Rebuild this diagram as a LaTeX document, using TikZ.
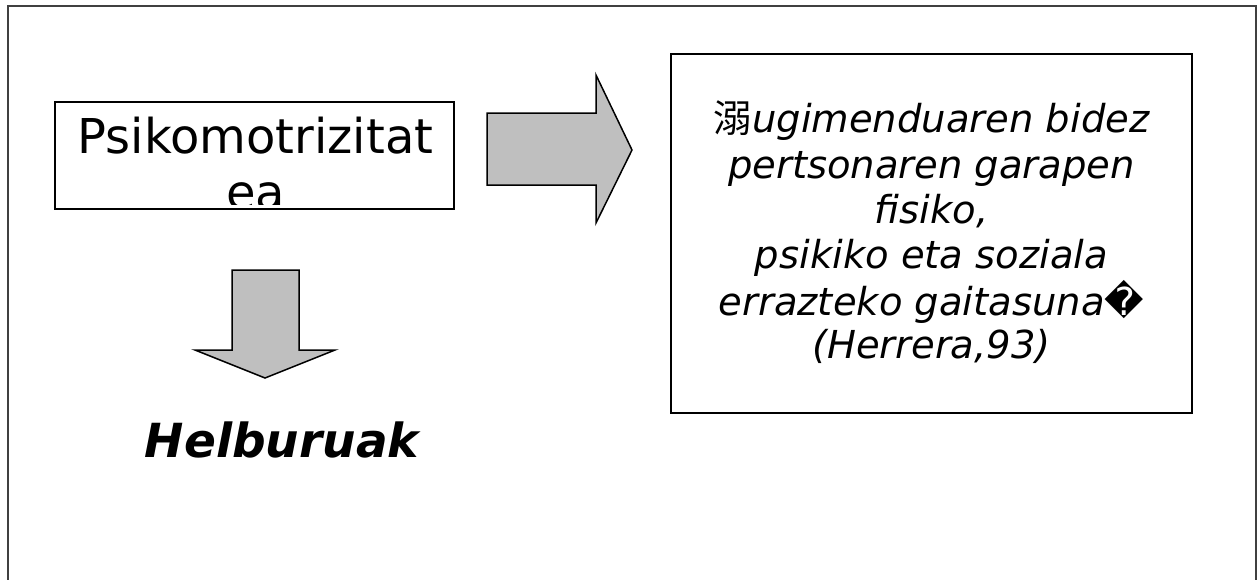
\documentclass[tikz,border=0pt]{standalone}
\usepackage{fontspec}
\setmainfont{DejaVu Sans}
\newfontfamily\cjk{Noto Sans CJK SC}
\newfontfamily\djv{DejaVu Sans}
\begin{document}
\begin{tikzpicture}[x=1pt,y=-1pt,
  frame/.style={draw=black!75,line width=2pt},
  boxnode/.style={draw=black,line width=1.5pt,rectangle,inner sep=0pt,fill=white},
  blockarrow/.style={draw=black,line width=1.5pt,fill=black!25,line join=miter},
  bigtxt/.style={font=\fontsize{48}{56}\selectfont,anchor=base,inner sep=0pt},
  deftxt/.style={font=\fontsize{38.5}{45}\selectfont\itshape,anchor=base,inner sep=0pt},
  goaltxt/.style={font=\fontsize{47}{54}\selectfont\bfseries\itshape,anchor=base,inner sep=0pt}]
\useasboundingbox (0,0) rectangle (1260,579);
\fill[white] (0,0) rectangle (1260,579);
% outer frame (open at bottom)
\draw[frame] (7.5,590) -- (7.5,5.5) -- (1255.5,5.5) -- (1255.5,590);
% left box
\node[boxnode,minimum width=399pt,minimum height=107pt] (psiko) at (254.5,155.5) {};
\begin{scope}
  \clip (55,102) rectangle (454,204);
  \node[bigtxt] (psikoA) at (255.5,153) {Psikomotrizitat};
  \node[bigtxt] (psikoB) at (255.5,209) {ea};
\end{scope}
% right box
\node[boxnode,minimum width=521pt,minimum height=359pt] (def) at (931.5,233.5) {};
\node[deftxt] (d1) at (931.5,132) {{\upshape\cjk 溺}ugimenduaren bidez};
\node[deftxt] (d2) at (931.5,178) {pertsonaren garapen};
\node[deftxt] (d3) at (931.5,223) {fisiko,};
\node[deftxt] (d4) at (931.5,268) {psikiko eta soziala};
\node[deftxt] (d5) at (931.5,315) {errazteko gaitasuna{\upshape\djv ^^^^fffd}};
\node[deftxt] (d6) at (931.5,358) {(Herrera,93)};
% right block arrow
\draw[blockarrow] (487,113) -- (596,113) -- (596,75) -- (632,150) -- (596,223) -- (596,185) -- (487,185) -- cycle;
% down block arrow
\draw[blockarrow] (232,270) -- (299,270) -- (299,350) -- (335,350) -- (265,378) -- (195,350) -- (232,350) -- cycle;
% goal text
\node[goaltxt] (goal) at (282,457) {Helburuak};
\end{tikzpicture}
\end{document}
